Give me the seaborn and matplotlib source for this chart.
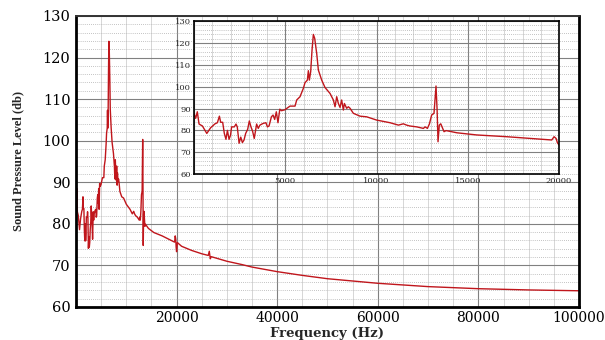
import numpy as np
import pandas as pd
import matplotlib
matplotlib.use("Agg")
import matplotlib.pyplot as plt
from matplotlib.ticker import MultipleLocator, FuncFormatter
import seaborn as sns

sns.set_style("white")
plt.rcParams["font.family"] = ["DejaVu Serif"]

# spectrum (Hz, dB)
freq = [0, 90, 180, 275, 460, 700, 910, 1150, 1280, 1390, 1460, 1570, 1660, 1750,
        1830, 1920, 2000, 2060, 2210, 2300, 2370, 2470, 2560, 2650, 2740, 2830,
        2940, 3030, 3120, 3210, 3300, 3430, 3520, 3610, 3790, 3940, 4020, 4110,
        4240, 4330, 4420, 4510, 4600, 4700, 4790, 4970, 5260, 5534, 5627, 5808,
        5990, 6080, 6210, 6265, 6320, 6393, 6466, 6539, 6612, 6722, 6813, 6996,
        7178, 7452, 7635, 7726, 7818, 7909, 8000, 8090, 8183, 8240, 8365, 8456,
        8550, 8730, 9096, 9461, 10009, 10740, 11200, 11470, 11650, 11830, 12200,
        12570, 12660, 12790, 12900, 13020, 13150, 13260, 13320, 13370, 13440,
        13520, 13590, 13700, 13810, 14400, 15490, 17130, 19600, 19730, 19840,
        19910, 20000, 20150, 21000, 23000, 25000, 26300, 26500, 26700, 26900,
        30000, 33000, 35000, 40000, 45000, 50000, 60000, 70000, 80000, 90000,
        100000]
spl = [87.8, 85.5, 88.5, 82.9, 82.0, 78.6, 81.2, 83.0, 83.5, 86.5, 83.7, 83.7,
       78.6, 75.9, 80.0, 75.9, 77.8, 81.6, 81.6, 82.9, 81.6, 74.1, 76.9, 74.4,
       75.6, 78.6, 80.5, 84.3, 81.6, 79.6, 76.3, 82.9, 80.9, 82.4, 83.2, 83.5,
       81.6, 82.0, 86.2, 87.0, 85.0, 88.5, 83.5, 89.7, 89.0, 89.4, 91.1, 91.1,
       93.9, 95.4, 99.2, 101.8, 103.0, 107.3, 103.0, 106.9, 116.7, 123.9, 122.1,
       115.2, 107.6, 103.0, 99.6, 96.9, 93.9, 90.8, 95.4, 92.3, 90.5, 93.9, 89.3,
       92.3, 90.1, 90.8, 90.1, 87.8, 86.5, 86.2, 84.7, 83.5, 82.4, 83.0, 82.4,
       82.0, 81.6, 80.9, 81.6, 80.9, 83.0, 87.0, 87.8, 100.3, 89.3, 74.8, 82.4,
       83.0, 81.6, 79.4, 79.9, 78.9, 77.9, 77.1, 75.6, 77.1, 76.3, 74.4, 73.3,
       75.5, 74.6, 73.6, 72.8, 72.4, 73.4, 71.6, 72.1, 71.0, 70.2, 69.6, 68.5,
       67.6, 66.8, 65.7, 64.9, 64.4, 64.1, 63.9]

df = pd.DataFrame({"freq": freq, "spl": spl})
low = df[df["freq"] <= 20000]

red = "#c0161c"


def grid_style(ax):
    ax.set_axisbelow(True)
    ax.grid(which="major", color="#808080", lw=0.8)
    ax.grid(which="minor", axis="x", color="#d0d0d0", lw=0.6)
    ax.grid(which="minor", axis="y", color="#b0b0b0", lw=0.6, ls=(0, (1, 1.5)))


fig = plt.figure(figsize=(6.05, 3.4), dpi=100)

# main axes
ax = fig.add_axes([0.1256, 0.0971, 0.8314, 0.856])
sns.lineplot(data=df, x="freq", y="spl", ax=ax, color=red, lw=1.0,
             estimator=None, sort=False)
ax.set_xlim(0, 100000)
ax.set_ylim(60, 130)
ax.xaxis.set_major_locator(MultipleLocator(20000))
ax.xaxis.set_minor_locator(MultipleLocator(5000))
ax.yaxis.set_major_locator(MultipleLocator(10))
ax.yaxis.set_minor_locator(MultipleLocator(2))
ax.xaxis.set_major_formatter(FuncFormatter(lambda v, p: "" if v == 0 else f"{v:.0f}"))
grid_style(ax)
ax.tick_params(which="major", direction="in", length=10, width=2, labelsize=10.5,
               colors="black", pad=4)
ax.tick_params(axis="x", which="major", labelsize=10, pad=3)
ax.tick_params(which="minor", direction="in", length=3, width=0.8)
for s in ["left", "bottom", "right"]:
    ax.spines[s].set_linewidth(2)
    ax.spines[s].set_color("black")
ax.spines["top"].set_linewidth(1.4)
ax.spines["top"].set_color("#333333")
ax.set_xlabel("Frequency (Hz)", fontsize=9.5, fontweight="bold", labelpad=1)
ax.set_ylabel("Sound Pressure Level (db)", fontsize=9, fontweight="bold",
              family=["Liberation Serif"], labelpad=13)

# inset
ins = fig.add_axes([0.3207, 0.488, 0.6033, 0.45])
ins.set_facecolor("white")
sns.lineplot(data=low, x="freq", y="spl", ax=ins, color=red, lw=1.0,
             estimator=None, sort=False)
ins.set_xlim(0, 20000)
ins.set_ylim(60, 130)
ins.xaxis.set_major_locator(MultipleLocator(5000))
ins.xaxis.set_minor_locator(MultipleLocator(1000))
ins.yaxis.set_major_locator(MultipleLocator(10))
ins.yaxis.set_minor_locator(MultipleLocator(2))
ins.xaxis.set_major_formatter(FuncFormatter(lambda v, p: "" if v == 0 else f"{v:.0f}"))
grid_style(ins)
ins.tick_params(which="major", direction="in", length=4, width=1, labelsize=6,
                pad=2)
ins.tick_params(which="minor", length=0)
for s in ins.spines.values():
    s.set_linewidth(1.2)
    s.set_color("black")
ins.set_xlabel("")
ins.set_ylabel("")

fig.savefig("out.png", dpi=100)
